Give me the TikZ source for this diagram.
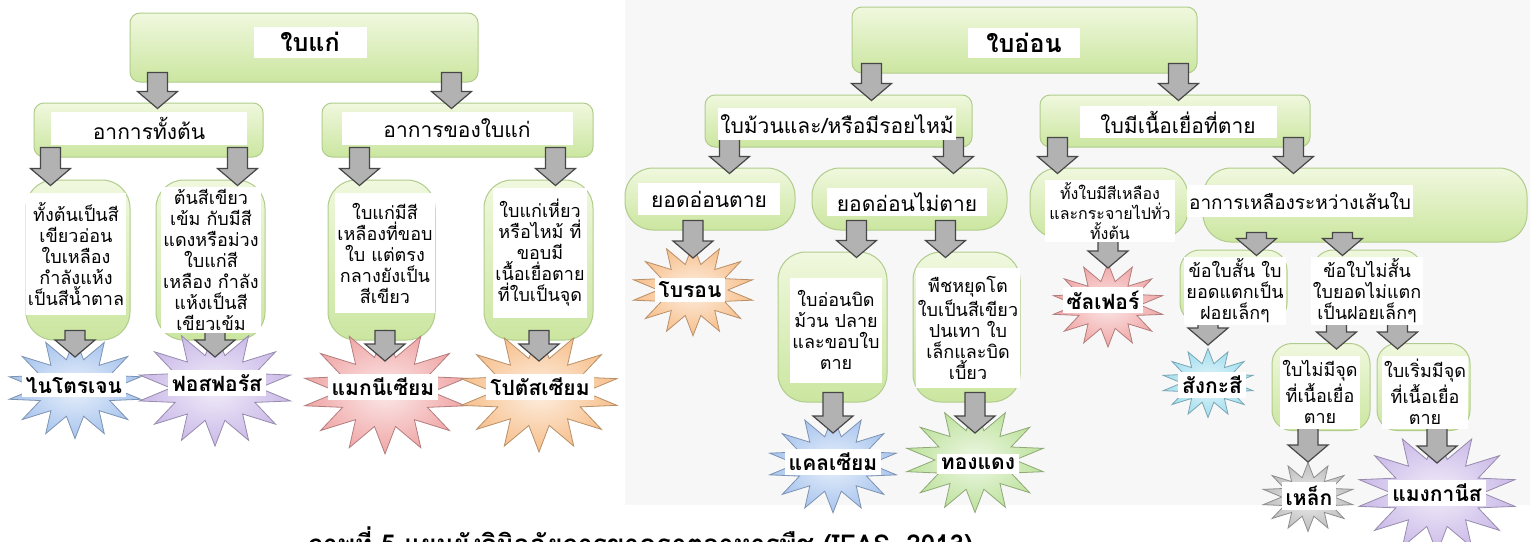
\documentclass[tikz,border=0pt]{standalone}
\usepackage{fontspec}
\setmainfont[Script=Thai]{Loma}
\usetikzlibrary{shapes.geometric,calc}

\definecolor{boxtop}{HTML}{F0F8DE}
\definecolor{boxbot}{HTML}{CBE6A0}
\definecolor{boxline}{HTML}{B1CC8C}
\definecolor{arrline}{HTML}{474747}
\definecolor{nblue}{HTML}{A7C4EE}
\definecolor{ppurple}{HTML}{CAB9E8}
\definecolor{mpink}{HTML}{F0A6A6}
\definecolor{korange}{HTML}{F7BF8B}
\definecolor{zcyan}{HTML}{A2DEEF}
\definecolor{cgreen}{HTML}{BDE29C}
\definecolor{fgray}{HTML}{BEBEBE}
\definecolor{texture}{HTML}{F7F7F7}

\tikzset{
  gbox/.style={draw=boxline, line width=0.5pt, top color=boxtop, bottom color=boxbot, rounded corners=5pt, inner sep=0pt},
  gcap/.style={gbox, rounded corners=14pt},
  lbl/.style={fill=white, inner sep=1pt, align=center, font=\fontsize{10.5}{12.5}\selectfont},
  sml/.style={lbl, font=\fontsize{9}{10.5}\selectfont},
  toplbl/.style={lbl, font=\bfseries\fontsize{12.5}{15}\selectfont},
  burst/.style={star, star points=14, star point ratio=1.75, draw=#1!75!black, line width=0.4pt, inner color=#1!25, outer color=#1, yscale=0.75, transform shape},
  elbl/.style={lbl, inner sep=2pt, font=\bfseries\fontsize{10.5}{12.5}\selectfont},
  garrow/.style={draw=arrline, line width=0.6pt, left color=gray!60, middle color=gray!15, right color=gray!60},
  caption/.style={font=\bfseries\fontsize{13}{15}\selectfont}
}

\newcommand{\grarrow}[3]{%
  \path[garrow] let \p1=#1, \p2=(#2.south), \p3=#3 in
    (\x1-5pt,\y2+5pt) -- (\x1-5pt,\y3+5.5pt) -- (\x1-10pt,\y3+5.5pt) -- (\x1,\y3-3pt)
    -- (\x1+10pt,\y3+5.5pt) -- (\x1+5pt,\y3+5.5pt) -- (\x1+5pt,\y2+5pt) -- cycle;}

\begin{document}
\begin{tikzpicture}[x=0.5pt,y=-0.5pt]
\useasboundingbox (0,0) rectangle (1530,541);
\fill[white] (0,0) rectangle (1530,541);
\fill[texture] (625,0) rectangle (1530,505);

\node[gbox, minimum width=174pt, minimum height=34.5pt] (r1) at (304,47.5) {};
\node[gbox, minimum width=114.5pt, minimum height=27pt] (a1) at (148.5,130) {};
\node[gbox, minimum width=135.5pt, minimum height=27pt] (a2) at (457.5,130) {};
\node[gcap, minimum width=52pt, minimum height=80pt] (c1) at (78,260) {};
\node[gcap, minimum width=54.5pt, minimum height=80pt] (c2) at (210.5,260) {};
\node[gcap, minimum width=53.5pt, minimum height=80pt] (c3) at (381.5,260) {};
\node[gcap, minimum width=54.5pt, minimum height=80pt] (c4) at (538.5,260) {};
\node[burst=nblue, minimum size=67.5pt] (s1) at (75,388) {};
\node[burst=ppurple, minimum size=77.5pt] (s2) at (215,388) {};
\node[burst=mpink, minimum size=82.5pt] (s3) at (385,392) {};
\node[burst=korange, minimum size=80pt] (s4) at (539,392) {};

\node[gbox, minimum width=172.5pt, minimum height=33pt] (rb) at (1024.5,40) {};
\node[gbox, minimum width=133.5pt, minimum height=26pt] (b1) at (838.5,121) {};
\node[gbox, minimum width=135pt, minimum height=26pt] (b2) at (1175,121) {};
\node[gcap, minimum width=85pt, minimum height=31pt] (d1) at (710,199) {};
\node[gcap, minimum width=97.5pt, minimum height=31pt] (d2) at (909.5,199) {};
\node[gcap, minimum width=79pt, minimum height=35pt] (d3) at (1109,203) {};
\node[gcap, minimum width=162pt, minimum height=37pt] (d4) at (1365,205) {};
\node[gcap, minimum width=54.5pt, minimum height=75pt] (e1) at (832.5,327) {};
\node[gcap, minimum width=53.5pt, minimum height=75pt] (e2) at (966.5,327) {};
\node[gbox, rounded corners=10pt, minimum width=53.5pt, minimum height=36.5pt] (f1) at (1233.5,286.5) {};
\node[gbox, rounded corners=10pt, minimum width=54.5pt, minimum height=36.5pt] (f2) at (1367.5,286.5) {};
\node[gbox, rounded corners=10pt, minimum width=49pt, minimum height=43.5pt] (g1) at (1321,387) {};
\node[gbox, rounded corners=10pt, minimum width=46.5pt, minimum height=43.5pt] (g2) at (1423.5,387) {};
\node[burst=korange, minimum size=61pt] (s5) at (693,290) {};
\node[burst=nblue, minimum size=65pt] (s6) at (833,464) {};
\node[burst=cgreen, minimum size=70pt] (s7) at (975,460) {};
\node[burst=mpink, minimum size=56pt] (s8) at (1108,305) {};
\node[burst=zcyan, minimum size=46pt] (s9) at (1208,383) {};
\node[burst=fgray, minimum size=46pt] (s10) at (1308,497) {};
\node[burst=ppurple, minimum size=80pt] (s11) at (1437,493) {};

\grarrow{($(r1.south west)+(28,0)$)}{r1}{(a1.north)}
\grarrow{($(r1.south east)+(-27,0)$)}{r1}{(a2.north)}
\grarrow{($(a1.south west)+(17,0)$)}{a1}{(c1.north)}
\grarrow{($(a1.south east)+(-26,0)$)}{a1}{(c2.north)}
\grarrow{($(a2.south west)+(38,0)$)}{a2}{(c3.north)}
\grarrow{($(a2.south east)+(-38,0)$)}{a2}{(c4.north)}
\grarrow{(s1)}{c1}{($(s1)+(0,-37)$)}
\grarrow{(s2)}{c2}{($(s2)+(0,-37)$)}
\grarrow{(s3)}{c3}{($(s3)+(0,-37)$)}
\grarrow{(s4)}{c4}{($(s4)+(0,-37)$)}

\grarrow{($(rb.south west)+(20,0)$)}{rb}{(b1.north)}
\grarrow{($(rb.south east)+(-19,0)$)}{rb}{(b2.north)}
\grarrow{($(b1.south west)+(25,0)$)}{b1}{(d1.north)}
\grarrow{($(b1.south east)+(-19,0)$)}{b1}{(d2.north)}
\grarrow{($(b2.south west)+(18,0)$)}{b2}{(d3.north)}
\grarrow{($(b2.south east)+(-17,0)$)}{b2}{(d4.north)}
\grarrow{(s5)}{d1}{($(s5)+(0,-38)$)}
\grarrow{($(d2.south west)+(45,0)$)}{d2}{(e1.north)}
\grarrow{($(d2.south east)+(-62,0)$)}{d2}{(e2.north)}
\grarrow{(s8)}{d3}{($(s8)+(0,-43)$)}
\grarrow{($(d4.south west)+(54,0)$)}{d4}{(f1.north)}
\grarrow{($(d4.south west)+(140,0)$)}{d4}{(f2.north)}
\grarrow{(s6)}{e1}{($(s6)+(0,-37)$)}
\grarrow{(s7)}{e2}{($(s7)+(0,-33)$)}
\grarrow{(s9)}{f1}{($(s9)+(0,-44)$)}
\grarrow{($(f2.south west)+(24,0)$)}{f2}{(g1.north)}
\grarrow{($(f2.south east)+(-25,0)$)}{f2}{(g2.north)}
\grarrow{(s10)}{g1}{($(s10)+(0,-41)$)}
\grarrow{(s11)}{g2}{($(s11)+(0,-36)$)}

\node[toplbl, minimum width=56.5pt, minimum height=15.5pt] (r1t) at (310,42) {ใบแก่};
\node[lbl, minimum width=98pt, minimum height=16.5pt] (a1t) at (149,128) {อาการทั้งต้น};
\node[lbl, minimum width=115.5pt, minimum height=16.5pt] (a2t) at (457,128) {อาการของใบแก่};
\node[sml, minimum width=43.5pt, minimum height=61pt] (c1t) at (76,254) {ทั้งต้นเป็นสี\\เขียวอ่อน\\ใบเหลือง\\กำลังแห้ง\\เป็นสีน้ำตาล};
\node[sml, minimum width=43.5pt, minimum height=72.5pt] (c2t) at (211,260) {ต้นสีเขียว\\เข้ม กับมีสี\\แดงหรือม่วง\\ใบแก่สี\\เหลือง กำลัง\\แห้งเป็นสี\\เขียวเข้ม};
\node[sml, minimum width=43.5pt, minimum height=60pt] (c3t) at (385,253) {ใบแก่มีสี\\เหลืองที่ขอบ\\ใบ แต่ตรง\\กลางยังเป็น\\สีเขียว};
\node[sml, minimum width=44.5pt, minimum height=65pt] (c4t) at (540,253) {ใบแก่เหี่ยว\\หรือไหม้ ที่\\ขอบมี\\เนื้อเยื่อตาย\\ที่ใบเป็นจุด};
\node[elbl] (s1t) at (74,385) {ไนโตรเจน};
\node[elbl] (s2t) at (217,383) {ฟอสฟอรัส};
\node[elbl] (s3t) at (383,387) {แมกนีเซียม};
\node[elbl] (s4t) at (540,387) {โปตัสเซียม};

\node[toplbl, minimum width=56pt, minimum height=15pt] (rbt) at (1024,43) {ใบอ่อน};
\node[lbl, minimum width=116.5pt, minimum height=16pt] (b1t) at (837,124) {ใบม้วนและ/หรือมีรอยไหม้};
\node[lbl, minimum width=98.5pt, minimum height=16pt] (b2t) at (1178,122) {ใบมีเนื้อเยื่อที่ตาย};
\node[lbl, minimum width=71pt, minimum height=16pt] (d1t) at (709,199) {ยอดอ่อนตาย};
\node[lbl, minimum width=80pt, minimum height=14pt] (d2t) at (907,202) {ยอดอ่อนไม่ตาย};
\node[sml, font=\fontsize{8}{10}\selectfont, minimum width=65pt, minimum height=31pt] (d3t) at (1110,211) {ทั้งใบมีสีเหลือง\\และกระจายไปทั่ว\\ทั้งต้น};
\node[lbl, font=\fontsize{9.5}{11.5}\selectfont, minimum width=103pt, minimum height=16pt] (d4t) at (1300,201) {อาการเหลืองระหว่างเส้นใบ};
\node[sml, minimum width=44pt, minimum height=52.5pt] (e1t) at (836,330) {ใบอ่อนบิด\\ม้วน ปลาย\\และขอบใบ\\ตาย};
\node[sml, minimum width=44.5pt, minimum height=60pt] (e2t) at (968,328) {พืชหยุดโต\\ใบเป็นสีเขียว\\ปนเทา ใบ\\เล็กและบิด\\เบี้ยว};
\node[sml, minimum width=47pt, minimum height=27.5pt] (f1t) at (1235,291) {ข้อใบสั้น ใบ\\ยอดแตกเป็น\\ฝอยเล็กๆ};
\node[sml, minimum width=46.5pt, minimum height=27.5pt] (f2t) at (1367,291) {ข้อใบไม่สั้น\\ใบยอดไม่แตก\\เป็นฝอยเล็กๆ};
\node[sml, minimum width=37.5pt, minimum height=36.5pt] (g1t) at (1320,392) {ใบไม่มีจุด\\ที่เนื้อเยื่อ\\ตาย};
\node[sml, minimum width=38pt, minimum height=36.5pt] (g2t) at (1425,392) {ใบเริ่มมีจุด\\ที่เนื้อเยื่อ\\ตาย};
\node[elbl] (s5t) at (690,290) {โบรอน};
\node[elbl] (s6t) at (833,462) {แคลเซียม};
\node[elbl] (s7t) at (978,464) {ทองแดง};
\node[elbl] (s8t) at (1103,300) {ซัลเฟอร์};
\node[elbl] (s9t) at (1212,385) {สังกะสี};
\node[elbl] (s10t) at (1309,496) {เหล็ก};
\node[elbl] (s11t) at (1437,493) {แมงกานีส};

\begin{scope}
\clip (0,0) rectangle (1530,541);
\node[caption, anchor=base east] (cap) at (980,553) {ภาพที่ 5 แผนผังวินิจฉัยการขาดธาตุอาหารพืช (IFAS, 2013)};
\end{scope}
\end{tikzpicture}
\end{document}
